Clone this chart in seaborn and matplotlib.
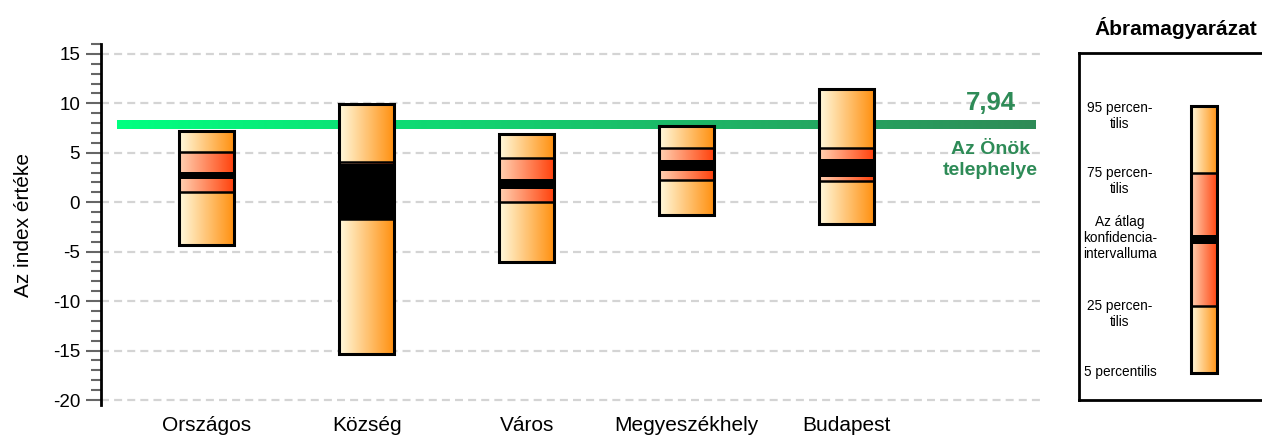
import numpy as np
import pandas as pd
import matplotlib
matplotlib.use("Agg")
import matplotlib.pyplot as plt
import seaborn as sns
from matplotlib.colors import LinearSegmentedColormap
from matplotlib.collections import LineCollection
from matplotlib.ticker import MultipleLocator

# Data
categories = ["Országos", "Község", "Város", "Megyeszékhely", "Budapest"]
p5 = [-4.3, -15.3, -6.0, -1.3, -2.2]
p25 = [1.0, -1.7, 0.0, 2.2, 2.1]
ci_low = [2.3, -1.75, 1.3, 3.2, 2.6]
ci_high = [3.05, 3.85, 2.4, 4.25, 4.35]
p75 = [5.1, 4.05, 4.5, 5.5, 5.5]
p95 = [7.2, 9.9, 6.85, 7.7, 11.5]
site_value = 7.94

# legend sample bar (in legend panel units)
legend_bar = {"p5": 27, "p25": 94, "ci_low": 156, "ci_high": 165, "p75": 227, "p95": 294}
legend_labels = ["95 percen-\ntilis", "75 percen-\ntilis",
                 "Az átlag\nkonfidencia-\nintervalluma", "25 percen-\ntilis", "5 percentilis"]
legend_label_y = [284, 219, 162, 86, 28]

sns.set_theme(style="white")
plt.rcParams['font.family'] = ['Liberation Sans', 'DejaVu Sans']
plt.rcParams['axes.unicode_minus'] = False
plt.rcParams['text.color'] = 'black'
plt.rcParams['axes.labelcolor'] = 'black'

light_cmap = LinearSegmentedColormap.from_list("light", ["#fffade", "#ff9010"])
red_cmap = LinearSegmentedColormap.from_list("red", ["#ffd2b4", "#ff420c"])
green_cmap = LinearSegmentedColormap.from_list("green", ["#00ff80", "#2e8b57"])
grad = np.linspace(0, 1, 256).reshape(1, -1)


def draw_box(ax, x, w, v5, v25, vlo, vhi, v75, v95, lw=2.0):
    for lo, hi, cmap in [(v5, v25, light_cmap), (v25, v75, red_cmap), (v75, v95, light_cmap)]:
        ax.imshow(grad, cmap=cmap, extent=[x - w / 2, x + w / 2, lo, hi],
                  aspect='auto', zorder=1, interpolation='bilinear')
    ax.fill_between([x - w / 2, x + w / 2], vlo, vhi, color='black', zorder=2, lw=0)
    ax.hlines([v25, v75], x - w / 2, x + w / 2, color='black', lw=lw * 0.9, zorder=3)


fig = plt.figure(figsize=(12.62, 4.36), dpi=100)
ax = fig.add_axes([101 / 1262, 31 / 436, 944 / 1262, 361 / 436])

df = pd.DataFrame({"kat": categories, "p5": p5, "p95": p95})
df["span"] = df["p95"] - df["p5"]
w = 0.34

# outline of each box via seaborn
sns.barplot(data=df, x="kat", y="span", bottom=df["p5"].values, fill=False, color='black',
            edgecolor='black', linewidth=2.2, width=w, errorbar=None, ax=ax, zorder=4)

for i in range(len(categories)):
    draw_box(ax, i, w, p5[i], p25[i], ci_low[i], ci_high[i], p75[i], p95[i])

# gradient reference line (Az Önök telephelye)
xs = np.linspace(0.017, 0.989, 300)
segs = [[(xs[k], site_value), (xs[k + 1], site_value)] for k in range(len(xs) - 1)]
lc = LineCollection(segs, colors=green_cmap(np.linspace(0, 1, len(segs))), linewidths=6.3,
                    transform=ax.get_yaxis_transform(), zorder=0.5, capstyle='butt',
                    antialiaseds=False)
ax.add_collection(lc)

ax.text(4.9, 10.0, f"{site_value:.2f}".replace('.', ','), color='#2e8b57', fontsize=18.5,
        fontweight='bold', ha='center', va='center')
ax.text(4.9, 4.3, "Az Önök\ntelephelye", color='#2e8b57', fontsize=14,
        fontweight='bold', ha='center', va='center', linespacing=1.3)

ax.set_xlim(-0.66, 5.24)
ax.set_ylim(-20.5, 16)
ax.yaxis.set_major_locator(MultipleLocator(5))
ax.yaxis.set_minor_locator(MultipleLocator(1))
ax.yaxis.grid(True, which='major', ls=(0, (3.6, 2.3)), lw=1.6, color='#d4d4d4', zorder=0)
ax.xaxis.grid(False)
ax.set_axisbelow(True)
for s in ['top', 'right', 'bottom']:
    ax.spines[s].set_visible(False)
ax.spines['left'].set_color('black')
ax.spines['left'].set_linewidth(2)
ax.tick_params(axis='y', which='major', length=11, width=1.5, color='#666666',
               direction='out', labelsize=13.5, labelcolor='black', pad=4, left=True)
ax.tick_params(axis='y', which='minor', length=7, width=1.5, color='#666666',
               direction='out', left=True)
ax.tick_params(axis='x', length=0, labelsize=15, labelcolor='black', pad=8)
ax.set_xlabel("")
ax.set_ylabel("Az index értéke", fontsize=15, labelpad=14)

# legend panel
lax = fig.add_axes([1079 / 1262, 36 / 436, 240 / 1262, 347 / 436])
lax.set_xlim(0, 240)
lax.set_ylim(0, 347)
lax.set_xticks([])
lax.set_yticks([])
for s in ['left', 'top', 'bottom', 'right']:
    lax.spines[s].set_color('black')
    lax.spines[s].set_linewidth(2)
lb = legend_bar
draw_box(lax, 125, 26.6, lb["p5"], lb["p25"], lb["ci_low"], lb["ci_high"], lb["p75"], lb["p95"])
lax.add_patch(plt.Rectangle((125 - 13.3, lb["p5"]), 26.6, lb["p95"] - lb["p5"], fill=False,
                            edgecolor='black', lw=2.2, zorder=4))
for txt, yy in zip(legend_labels, legend_label_y):
    lax.text(41, yy, txt, ha='center', va='center', fontsize=9.8, linespacing=1.15)

fig.text(1176 / 1262, 1 - 28 / 436, "Ábramagyarázat", ha='center', va='center',
         fontsize=15, fontweight='bold')

fig.savefig("out.png", dpi=100)
